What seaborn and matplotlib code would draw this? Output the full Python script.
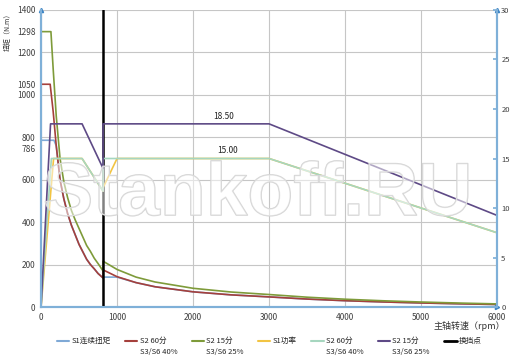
import numpy as np
import pandas as pd
import matplotlib
matplotlib.use("Agg")
import matplotlib.pyplot as plt
import matplotlib.patheffects as pe
import seaborn as sns

sns.set_theme(style="white")
plt.rcParams['font.family'] = ['Noto Sans CJK SC', 'DejaVu Sans']

# ---- data ----
shift_rpm = 816

# torque series (left axis, N.m)
s1_torque_rpm = [0, 170, 200, 250, 300, 350, 400, 450, 500, 550, 600, 650, 700, 750, 816,
                 816, 1000, 1250, 1500, 2000, 2500, 3000, 3500, 4000, 4500, 5000, 5500, 6000]
s1_torque = [786, 786, 760, 600, 510, 440, 385, 340, 295, 260, 225, 200, 180, 158, 137,
             141, 141, 115, 95.5, 71.6, 57.3, 47.7, 37.5, 29.8, 23.9, 19.1, 15.2, 11.9]

s2_60_rpm = [0, 120, 160, 200, 250, 300, 350, 400, 450, 500, 550, 600, 650, 700, 750, 816,
             816, 1000, 1250, 1500, 2000, 2500, 3000, 3500, 4000, 4500, 5000, 5500, 6000]
s2_60_torque = [1050, 1050, 920, 760, 600, 510, 440, 385, 340, 295, 260, 225, 200, 180, 158, 137,
                175, 143, 115, 95.5, 71.6, 57.3, 47.7, 37.5, 29.8, 23.9, 19.1, 15.2, 11.9]

s2_15_rpm = [0, 130, 160, 200, 250, 300, 350, 400, 450, 500, 550, 600, 650, 700, 750, 816,
             816, 1000, 1250, 1500, 2000, 2500, 3000, 3500, 4000, 4500, 5000, 5500, 6000]
s2_15_torque = [1298, 1298, 1120, 900, 700, 590, 515, 455, 410, 370, 330, 290, 262, 230, 205, 170,
                216, 177, 141, 118, 88.3, 70.7, 58.9, 46.3, 36.8, 29.4, 23.6, 18.7, 14.7]

# power series (right axis, kW)
s1_power_rpm = [0, 165, 540, 816, 816, 1000, 3000, 6000]
s1_power = [0, 15, 15, 11.7, 12.05, 15, 15, 7.5]

s2_60_power_rpm = [0, 136, 540, 816, 816, 3000, 6000]
s2_60_power = [0, 15, 15, 11.7, 15, 15, 7.5]

s2_15_power_rpm = [0, 125, 540, 816, 816, 3000, 6000]
s2_15_power = [0, 18.5, 18.5, 14.0, 18.5, 18.5, 9.25]

shift_rpm_pts = [shift_rpm, shift_rpm]
shift_torque = [0, 1400]

labels = ["S1连续扭矩\n ", "S2 60分\nS3/S6 40%", "S2 15分\nS3/S6 25%", "S1功率\n ",
          "S2 60分\nS3/S6 40%", "S2 15分\nS3/S6 25%", "换挡点\n "]
colors = ["#7fa9d6", "#a5403c", "#7e9b3a", "#f2c443", "#a6d6bf", "#5e4a86", "#000000"]

left_major = [0, 200, 400, 600, 800, 1000, 1200, 1400]
left_extra = [1050, 1298]
x_ticks = [0, 1000, 2000, 3000, 4000, 5000, 6000]
right_ticks = [0, 5, 10, 15, 20, 25, 30]

# ---- figure ----
fig = plt.figure(figsize=(5.13, 3.57), dpi=100)
ax = fig.add_axes([0.080, 0.140, 0.889, 0.832])
ax2 = ax.twinx()

lw = 1.2
kw = dict(estimator=None, sort=False, legend=False, linewidth=lw)
sns.lineplot(x=s1_torque_rpm, y=s1_torque, ax=ax, color=colors[0], **kw)
sns.lineplot(x=s2_60_rpm, y=s2_60_torque, ax=ax, color=colors[1], **kw)
sns.lineplot(x=s2_15_rpm, y=s2_15_torque, ax=ax, color=colors[2], **kw)
sns.lineplot(x=s1_power_rpm, y=s1_power, ax=ax2, color=colors[3], **kw)
sns.lineplot(x=s2_60_power_rpm, y=s2_60_power, ax=ax2, color=colors[4], **kw)
sns.lineplot(x=s2_15_power_rpm, y=s2_15_power, ax=ax2, color=colors[5], **kw)
sns.lineplot(x=shift_rpm_pts, y=shift_torque, ax=ax, color=colors[6], estimator=None,
             sort=False, legend=False, linewidth=1.8, zorder=10)

ax.set_xlim(0, 6000)
ax.set_ylim(0, 1400)
ax2.set_ylim(0, 30)

grid_c = "#c6c6c6"
ax.set_xticks(x_ticks)
ax.set_yticks(left_major)
ax.set_yticks(left_extra, minor=True)
ax.set_yticklabels([str(v) for v in left_major], fontsize=6, color="#404040")
ax.set_yticklabels([str(v) for v in left_extra], minor=True, fontsize=6, color="#404040")
ax.annotate("786", xy=(0, 786), xycoords=("axes fraction", "data"), xytext=(-4, -7),
            textcoords="offset points", ha="right", va="center", fontsize=6, color="#404040")
ax.set_xticklabels([str(v) for v in x_ticks], fontsize=6, color="#404040")
ax.tick_params(axis="both", which="both", length=0, pad=4)
ax.grid(True, which="major", color=grid_c, linewidth=0.8)
ax.set_axisbelow(True)

ax2.set_yticks(right_ticks)
ax2.set_yticklabels([str(v) for v in right_ticks], fontsize=5.5, color="#404040")
ax2.tick_params(axis="y", direction="in", length=3, color="#7fb0d8", pad=3)
ax2.grid(False)

spc = "#7fb0d8"
for a in (ax, ax2):
    a.spines["top"].set_visible(False)
    for s in ("left", "bottom", "right"):
        a.spines[s].set_color(spc)
        a.spines[s].set_linewidth(1.5)

# arrow heads at axis ends
ax.plot([0], [1], marker="^", color="#3b83c4", markersize=3, transform=ax.transAxes, clip_on=False)
ax.plot([1], [1], marker="^", color="#3b83c4", markersize=3, transform=ax.transAxes, clip_on=False)
ax.plot([1], [0], marker=">", color="#3b83c4", markersize=3, transform=ax.transAxes, clip_on=False)

# value labels
ax2.text(2400, 19.2, "18.50", fontsize=6, ha="center", va="center", color="#222222")
ax2.text(2450, 15.8, "15.00", fontsize=6, ha="center", va="center", color="#222222")

# watermark
wm = ax2.text(0.475, 0.375, "Stankoff.RU", transform=ax.transAxes, fontsize=54,
              family="Liberation Sans", fontweight="bold",
              ha="center", va="center", color=(1, 1, 1, 0.3), zorder=20)
wm.set_path_effects([pe.withStroke(linewidth=1.0, foreground="#d4d4d4")])

ax.set_ylabel("扭矩（N.m）", fontsize=5, loc="top", labelpad=4, color="#333333")
ax.set_xlabel("")
fig.text(0.985, 0.088, "主轴转速（rpm）", fontsize=6.5, ha="right", va="center", color="#333333")

handles = [plt.Line2D([], [], color=c, linewidth=1.5 if i < 6 else 2) for i, c in enumerate(colors)]
leg = fig.legend(handles, labels, loc="center", bbox_to_anchor=(0.525, 0.03), ncol=7, fontsize=5.5,
                 frameon=False, handlelength=1.6, handletextpad=0.3, columnspacing=1.9)
for t in leg.get_texts():
    t.set_linespacing(1.6)
for hl in leg.legend_handles:
    yd = np.asarray(hl.get_ydata(), dtype=float)
    hl.set_ydata(yd + 4.4)

fig.savefig("out.png", dpi=100)
